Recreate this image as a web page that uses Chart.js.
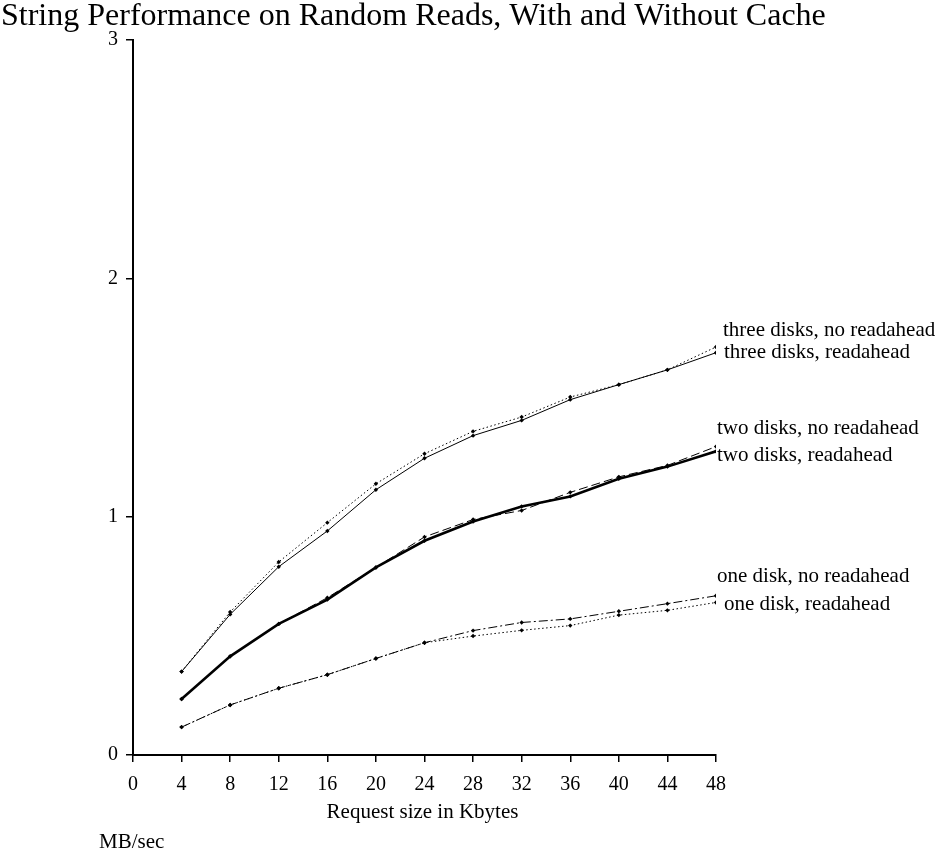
<!DOCTYPE html>
<html>
<head>
<meta charset="utf-8">
<script src="https://cdn.jsdelivr.net/npm/chart.js@4"></script>
<style>
    html, body { margin: 0; padding: 0; background: #fff; }
    #wrap { width: 938px; height: 853px; }
</style>
</head>
<body>
<div id="wrap"><canvas id="chart" width="938" height="853"></canvas></div>
<script>
// Request sizes (Kbytes) and throughput (MB/sec)
const requestSizes = [4, 8, 12, 16, 20, 24, 28, 32, 36, 40, 44, 48];
const threeNoReadahead = [0.35, 0.60, 0.81, 0.975, 1.138, 1.264, 1.358, 1.418, 1.502, 1.554, 1.616, 1.712];
const threeReadahead   = [0.35, 0.59, 0.79, 0.94, 1.113, 1.245, 1.34, 1.404, 1.491, 1.554, 1.616, 1.688];
const twoNoReadahead   = [0.235, 0.414, 0.55, 0.66, 0.787, 0.915, 0.988, 1.026, 1.102, 1.167, 1.215, 1.294];
const twoReadahead     = [0.235, 0.414, 0.55, 0.652, 0.787, 0.899, 0.98, 1.043, 1.085, 1.159, 1.21, 1.274];
const oneNoReadahead   = [0.117, 0.21, 0.28, 0.337, 0.405, 0.471, 0.522, 0.556, 0.571, 0.603, 0.635, 0.668];
const oneReadahead     = [0.117, 0.21, 0.28, 0.337, 0.405, 0.471, 0.499, 0.523, 0.543, 0.587, 0.607, 0.64];

const xTicks = [0, 4, 8, 12, 16, 20, 24, 28, 32, 36, 40, 44, 48];
const yTicks = [0, 1, 2, 3];

const serif = '"Liberation Serif", "Times New Roman", serif';

function series(label, values, dash, width, labelDx, labelDy) {
    return {
        label: label,
        data: values.map((v, i) => ({ x: requestSizes[i], y: v })),
        borderColor: '#000',
        backgroundColor: '#000',
        borderWidth: width,
        borderDash: dash,
        pointStyle: 'rectRot',
        pointRadius: 2.2,
        pointBorderWidth: 0,
        pointBackgroundColor: '#000',
        tension: 0,
        labelDx: labelDx,
        labelDy: labelDy
    };
}

// Text outside the plot: title, axis names, end-of-line series names
const annotations = {
    id: 'annotations',
    afterDraw(chart) {
        const ctx = chart.ctx;
        const xs = chart.scales.x;
        const ys = chart.scales.y;
        const area = chart.chartArea;
        ctx.save();
        ctx.fillStyle = '#000';

        ctx.textAlign = 'left';
        ctx.textBaseline = 'alphabetic';
        ctx.font = '32px ' + serif;
        ctx.fillText('String Performance on Random Reads, With and Without Cache', 1, 25);

        ctx.textBaseline = 'middle';
        ctx.font = '21px ' + serif;
        ctx.fillText('MB/sec', 99, 842);

        ctx.textAlign = 'center';
        ctx.fillText('Request size in Kbytes', (area.left + area.right) / 2 - 2, 812);

        ctx.textAlign = 'left';
        chart.data.datasets.forEach(ds => {
            const last = ds.data[ds.data.length - 1];
            const px = xs.getPixelForValue(last.x) + ds.labelDx;
            const py = ys.getPixelForValue(last.y) + ds.labelDy;
            ctx.fillText(ds.label, px, py);
        });
        ctx.restore();
    }
};

new Chart(document.getElementById('chart'), {
    type: 'line',
    data: {
        datasets: [
            series('three disks, no readahead', threeNoReadahead, [1.5, 2.5], 1, 7, -16),
            series('three disks, readahead', threeReadahead, [], 1, 8, 0),
            series('two disks, no readahead', twoNoReadahead, [9, 4], 1, 1, -18),
            series('two disks, readahead', twoReadahead, [], 2.6, 1, 4),
            series('one disk, no readahead', oneNoReadahead, [9, 3, 2, 3], 1, 1, -19),
            series('one disk, readahead', oneReadahead, [1.5, 2.5], 1, 8, 2)
        ]
    },
    options: {
        responsive: false,
        animation: false,
        layout: { padding: { top: 40, right: 222, left: 0, bottom: 0 } },
        plugins: {
            legend: { display: false },
            tooltip: { enabled: false }
        },
        scales: {
            x: {
                type: 'linear',
                min: 0,
                max: 48,
                afterBuildTicks: scale => { scale.ticks = xTicks.map(v => ({ value: v })); },
                afterFit: scale => { scale.height = 98; },
                border: { color: '#000', width: 2 },
                grid: { drawOnChartArea: false, drawTicks: true, tickLength: 7, color: '#000', lineWidth: 1.5 },
                ticks: { color: '#000', padding: 11, maxRotation: 0, font: { family: serif, size: 20 } }
            },
            y: {
                min: 0,
                max: 3,
                afterBuildTicks: scale => { scale.ticks = yTicks.map(v => ({ value: v })); },
                afterFit: scale => { scale.width = 133; },
                border: { color: '#000', width: 2 },
                grid: { drawOnChartArea: false, drawTicks: true, tickLength: 7, color: '#000', lineWidth: 1.5 },
                ticks: { color: '#000', padding: 8, font: { family: serif, size: 20 } }
            }
        }
    },
    plugins: [annotations]
});
</script>
</body>
</html>
